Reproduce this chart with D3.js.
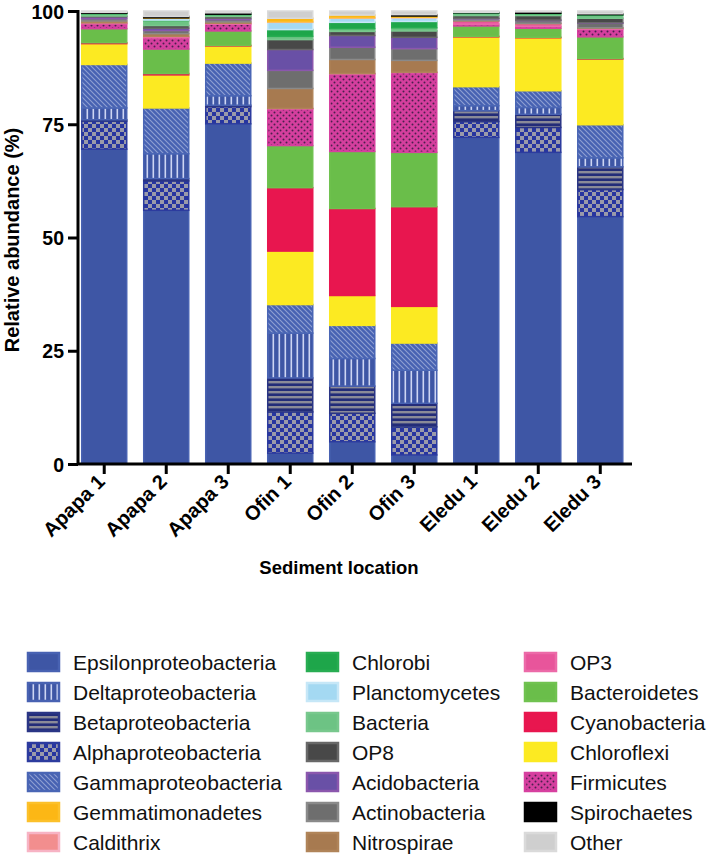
<!DOCTYPE html>
<html>
<head>
<meta charset="utf-8">
<script src="https://cdn.jsdelivr.net/npm/d3@7/dist/d3.min.js"></script>
<style>
  html, body { margin: 0; padding: 0; background: #fff; }
  svg { display: block; font-family: "Liberation Sans", Arial, sans-serif; }
</style>
</head>
<body>
<svg id="chart" width="708" height="856"></svg>
<script>
// ---------------- DATA ----------------
const samples = ["Apapa 1", "Apapa 2", "Apapa 3", "Ofin 1", "Ofin 2", "Ofin 3", "Eledu 1", "Eledu 2", "Eledu 3"];
const yTicks = [0, 25, 50, 75, 100];

// values (%) per sample, in the order of `samples`
const epsilonproteobacteria = [69.5, 56.0, 75.1, 2.4, 4.9, 2.0, 72.1, 68.8, 54.6];
const alphaproteobacteria   = [6.2, 6.5, 3.8, 9.1, 6.3, 6.2, 3.5, 5.5, 6.0];
const betaproteobacteria    = [0.3, 0.5, 0.3, 7.5, 6.0, 5.2, 2.4, 2.9, 5.0];
const deltaproteobacteria   = [2.6, 5.5, 2.1, 9.9, 6.1, 7.3, 1.1, 1.5, 2.0];
const gammaproteobacteria   = [9.6, 10.1, 7.2, 6.3, 7.3, 6.0, 4.2, 3.7, 7.3];
const chloroflexi           = [4.6, 7.3, 3.8, 11.8, 6.6, 8.1, 11.0, 11.7, 14.5];
const cyanobacteria         = [0.2, 0.3, 0.1, 14.0, 19.2, 22.0, 0.1, 0.1, 0.1];
const bacteroidetes         = [3.1, 5.4, 3.2, 9.3, 12.6, 12.0, 2.3, 2.0, 4.8];
const firmicutes            = [1.1, 2.5, 1.5, 8.1, 17.1, 17.6, 0.4, 0.4, 1.7];
const op3                   = [0.2, 0.3, 0.2, 0.1, 0.1, 0.1, 0.7, 0.6, 0.2];
const nitrospirae           = [0.4, 0.6, 0.3, 4.4, 3.1, 2.6, 0.1, 0.1, 0.1];
const actinobacteria        = [0.5, 0.7, 0.5, 4.0, 2.7, 2.6, 0.4, 0.6, 1.0];
const acidobacteria         = [0.4, 0.5, 0.3, 4.6, 2.6, 2.5, 0.1, 0.1, 0.1];
const op8                   = [0.2, 0.6, 0.4, 2.2, 0.9, 1.4, 0.6, 1.0, 1.0];
const bacteria              = [0.5, 1.1, 0.4, 0.7, 0.6, 0.7, 0.5, 0.4, 0.7];
const chlorobi              = [0.1, 0.1, 0.1, 1.5, 1.4, 1.4, 0.1, 0.1, 0.1];
const planctomycetes        = [0.0, 0.4, 0.0, 1.6, 0.9, 0.8, 0.0, 0.0, 0.0];
const caldithrix            = [0.0, 0.0, 0.0, 0.1, 0.1, 0.1, 0.0, 0.0, 0.0];
const gemmatimonadetes      = [0.0, 0.1, 0.0, 0.8, 0.6, 0.3, 0.0, 0.0, 0.0];
const spirochaetes          = [0.2, 0.3, 0.3, 0.0, 0.0, 0.3, 0.1, 0.3, 0.2];
const other                 = [0.3, 1.2, 0.4, 1.6, 0.9, 0.8, 0.3, 0.2, 0.6];

// stacking order, bottom to top
const stackOrder = ["Epsilonproteobacteria", "Alphaproteobacteria", "Betaproteobacteria", "Deltaproteobacteria",
  "Gammaproteobacteria", "Chloroflexi", "Cyanobacteria", "Bacteroidetes", "Firmicutes", "OP3", "Nitrospirae",
  "Actinobacteria", "Acidobacteria", "OP8", "Bacteria", "Chlorobi", "Planctomycetes", "Caldithrix",
  "Gemmatimonadetes", "Spirochaetes", "Other"];
const seriesValues = [epsilonproteobacteria, alphaproteobacteria, betaproteobacteria, deltaproteobacteria,
  gammaproteobacteria, chloroflexi, cyanobacteria, bacteroidetes, firmicutes, op3, nitrospirae,
  actinobacteria, acidobacteria, op8, bacteria, chlorobi, planctomycetes, caldithrix,
  gemmatimonadetes, spirochaetes, other];

// legend columns
const legendColumns = [
  ["Epsilonproteobacteria", "Deltaproteobacteria", "Betaproteobacteria", "Alphaproteobacteria", "Gammaproteobacteria", "Gemmatimonadetes", "Caldithrix"],
  ["Chlorobi", "Planctomycetes", "Bacteria", "OP8", "Acidobacteria", "Actinobacteria", "Nitrospirae"],
  ["OP3", "Bacteroidetes", "Cyanobacteria", "Chloroflexi", "Firmicutes", "Spirochaetes", "Other"]
];

// ---------------- STYLES ----------------
const styles = {
  "Epsilonproteobacteria": { fill: "#3e56a5", stroke: "#4862b2" },
  "Deltaproteobacteria":   { fill: "url(#pDelta)", stroke: "#4862b2" },
  "Betaproteobacteria":    { fill: "url(#pBeta)", stroke: "#2a3585" },
  "Alphaproteobacteria":   { fill: "url(#pAlpha)", stroke: "#2c3b9e" },
  "Gammaproteobacteria":   { fill: "url(#pGamma)", stroke: "#4a66b5" },
  "Gemmatimonadetes":      { fill: "#fcb715", stroke: "#fcc02a" },
  "Caldithrix":            { fill: "#f28e8e", stroke: "#f7b3c4" },
  "Chlorobi":              { fill: "#1ea64a", stroke: "#28ad52" },
  "Planctomycetes":        { fill: "#a4d9f2", stroke: "#c6e7f7" },
  "Bacteria":              { fill: "#6dc384", stroke: "#78c88d" },
  "OP8":                   { fill: "#484848", stroke: "#686868" },
  "Acidobacteria":         { fill: "#6950a6", stroke: "#8b57ad" },
  "Actinobacteria":        { fill: "#6e6e6e", stroke: "#8a8a8a" },
  "Nitrospirae":           { fill: "#a77a50", stroke: "#b08459" },
  "OP3":                   { fill: "#e8559b", stroke: "#ec6aa8" },
  "Bacteroidetes":         { fill: "#6abe4a", stroke: "#70c250" },
  "Cyanobacteria":         { fill: "#e8164f", stroke: "#e8164f" },
  "Chloroflexi":           { fill: "#fcea22", stroke: "#fcea22" },
  "Firmicutes":            { fill: "url(#pFirm)", stroke: "#d6409f" },
  "Spirochaetes":          { fill: "#000000", stroke: "#000000" },
  "Other":                 { fill: "#cfcfcf", stroke: "#dadada" }
};

// ---------------- DRAW ----------------
const svg = d3.select("#chart");
const defs = svg.append("defs");

// Delta: vertical light stripes
let p = defs.append("pattern").attr("id", "pDelta").attr("patternUnits", "userSpaceOnUse").attr("width", 6).attr("height", 6);
p.append("rect").attr("width", 6).attr("height", 6).attr("fill", "#3e56a5");
p.append("rect").attr("x", 2.5).attr("width", 1.6).attr("height", 6).attr("fill", "#cdd5f3");
// Beta: horizontal gray bars on navy
p = defs.append("pattern").attr("id", "pBeta").attr("patternUnits", "userSpaceOnUse").attr("width", 6).attr("height", 5);
p.append("rect").attr("width", 6).attr("height", 5).attr("fill", "#232c78");
p.append("rect").attr("y", 1).attr("width", 6).attr("height", 2.4).attr("fill", "#8a8a98");
// Alpha: gray checkerboard on blue
p = defs.append("pattern").attr("id", "pAlpha").attr("patternUnits", "userSpaceOnUse").attr("width", 8).attr("height", 8);
p.append("rect").attr("width", 8).attr("height", 8).attr("fill", "#2735a0");
p.append("rect").attr("width", 4).attr("height", 4).attr("fill", "#9a9aaa");
p.append("rect").attr("x", 4).attr("y", 4).attr("width", 4).attr("height", 4).attr("fill", "#9a9aaa");
// Gamma: diagonal light lines
p = defs.append("pattern").attr("id", "pGamma").attr("patternUnits", "userSpaceOnUse").attr("width", 5).attr("height", 5);
p.append("rect").attr("width", 5).attr("height", 5).attr("fill", "#4762b2");
p.append("path").attr("d", "M-1,-1L6,6M-1,4L1,6M4,-1L6,1").attr("stroke", "#8e9fd2").attr("stroke-width", 1.1);
// Firmicutes: dark dots on magenta
p = defs.append("pattern").attr("id", "pFirm").attr("patternUnits", "userSpaceOnUse").attr("width", 6).attr("height", 6);
p.append("rect").attr("width", 6).attr("height", 6).attr("fill", "#d53f9e");
p.append("circle").attr("cx", 1.5).attr("cy", 1.5).attr("r", 1).attr("fill", "#4c1f4e");
p.append("circle").attr("cx", 4.5).attr("cy", 4.5).attr("r", 1).attr("fill", "#4c1f4e");

const x = d3.scaleBand().domain(samples).range([78, 626.5]).paddingInner(0.274).paddingOuter(0.06);
const y = d3.scaleLinear().domain([0, 100]).range([464, 11]);

// build table
const table = samples.map((s, i) => {
  const row = { sample: s };
  stackOrder.forEach((k, j) => { row[k] = seriesValues[j][i]; });
  return row;
});
const stacked = d3.stack().keys(stackOrder)(table);

const g = svg.append("g");
g.selectAll("g.layer").data(stacked).join("g").attr("class", "layer")
  .each(function (layer) {
    const st = styles[layer.key];
    d3.select(this).selectAll("rect").data(layer.filter(d => d[1] - d[0] > 0)).join("rect")
      .attr("x", d => x(d.data.sample))
      .attr("width", x.bandwidth())
      .attr("y", d => y(d[1]))
      .attr("height", d => Math.max(0, y(d[0]) - y(d[1])))
      .attr("fill", st.fill)
      .attr("stroke", st.stroke)
      .attr("stroke-width", 1.5);
  });

// axes
const yAxis = g.append("g").attr("transform", "translate(78,0)")
  .call(d3.axisLeft(y).tickValues(yTicks).tickSize(10).tickSizeOuter(0).tickPadding(4));
yAxis.select(".domain").attr("stroke-width", 3).attr("d", "M0,464V10");
yAxis.selectAll(".tick line").attr("stroke-width", 3);
yAxis.selectAll(".tick text").attr("font-size", 19.5).attr("font-weight", "bold").attr("fill", "#000")
  .attr("dy", "0.37em");

const xAxis = g.append("g").attr("transform", "translate(0,464)")
  .call(d3.axisBottom(x).tickSize(10).tickSizeOuter(0));
xAxis.select(".domain").attr("stroke-width", 3).attr("d", "M78,0H632");
xAxis.selectAll(".tick line").attr("stroke-width", 3);
xAxis.selectAll(".tick text")
  .attr("font-size", 20).attr("font-weight", "bold").attr("fill", "#000")
  .attr("text-anchor", "end").attr("dy", 0).attr("y", 0)
  .attr("transform", "translate(2,19) rotate(-45)");

// axis titles
svg.append("text").attr("transform", "translate(19,240) rotate(-90)")
  .attr("text-anchor", "middle").attr("font-size", 20).attr("font-weight", "bold")
  .text("Relative abundance (%)");
svg.append("text").attr("x", 339).attr("y", 574)
  .attr("text-anchor", "middle").attr("font-size", 18.5).attr("font-weight", "bold")
  .text("Sediment location");

// legend
const colX = [28, 307, 525];
const leg = svg.append("g");
legendColumns.forEach((col, ci) => {
  col.forEach((name, ri) => {
    const yy = 653 + ri * 30;
    const st = styles[name];
    leg.append("rect").attr("x", colX[ci]).attr("y", yy).attr("width", 31).attr("height", 18)
      .attr("fill", st.fill).attr("stroke", st.stroke).attr("stroke-width", 2.5);
    leg.append("text").attr("x", colX[ci] + 45).attr("y", yy + 9).attr("dy", "0.36em")
      .attr("font-size", 21).attr("fill", "#111").text(name);
  });
});
</script>
</body>
</html>
